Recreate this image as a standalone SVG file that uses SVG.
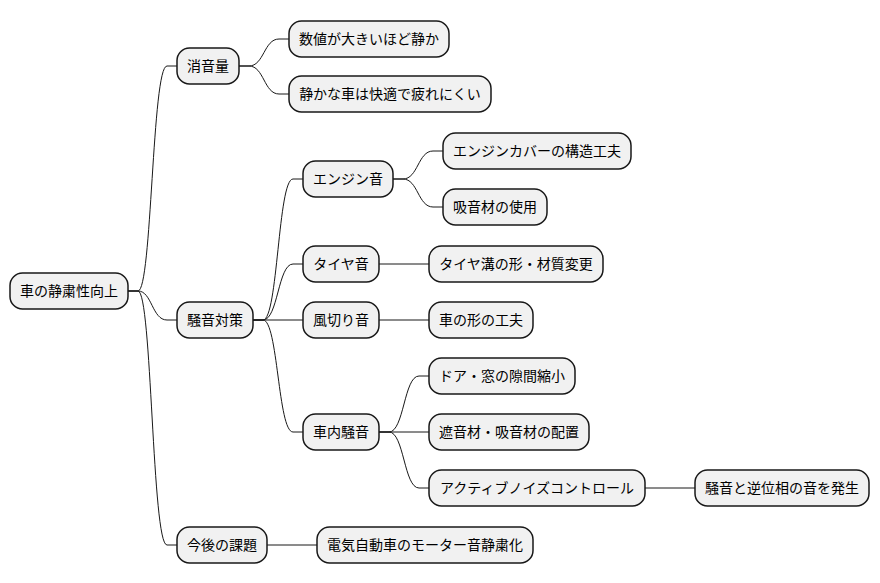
<svg xmlns="http://www.w3.org/2000/svg" width="880" height="583" viewBox="0 0 880 583">
<style>
.n rect{fill:#F1F1F1;stroke:#181818;stroke-width:1.5}
.n text{font-family:"Noto Sans CJK JP","Noto Sans",sans-serif;font-size:14px;fill:#000;text-anchor:middle}
#connectors path{fill:none;stroke:#181818;stroke-width:1}
</style>
<rect width="880" height="583" fill="#FFFFFF"/>
<g id="connectors">
<path d="M128,291 H138 C152,291 152,66 167,66 H177"/>
<path d="M128,291 H138 C152,291 152,320 167,320 H177"/>
<path d="M128,291 H138 C152,291 152,545 167,545 H177"/>
<path d="M239,66 H249 C264,66 264,39 279,39 H289"/>
<path d="M239,66 H249 C264,66 264,94 279,94 H289"/>
<path d="M253,320 H263 C278,320 278,179 293,179 H303"/>
<path d="M253,320 H263 C278,320 278,264 293,264 H303"/>
<path d="M253,320 H303"/>
<path d="M253,320 H263 C278,320 278,432 293,432 H303"/>
<path d="M393,179 H403 C418,179 418,151 433,151 H443"/>
<path d="M393,179 H403 C418,179 418,207 433,207 H443"/>
<path d="M379,264 H429"/>
<path d="M379,320 H429"/>
<path d="M379,432 H389 C404,432 404,376 419,376 H429"/>
<path d="M379,432 H429"/>
<path d="M379,432 H389 C404,432 404,488 419,488 H429"/>
<path d="M645,488 H695"/>
<path d="M267,545 H317"/>
</g>
<g id="root" class="n"><rect x="10" y="273" width="118" height="36" rx="12.5"/><text x="69" y="296">車の静粛性向上</text></g>
<g id="n-shouonryou" class="n"><rect x="177" y="48" width="62" height="36" rx="12.5"/><text x="208" y="71">消音量</text></g>
<g id="n-suuchi" class="n"><rect x="289" y="21" width="160" height="36" rx="12.5"/><text x="369" y="44">数値が大きいほど静か</text></g>
<g id="n-shizuka" class="n"><rect x="289" y="76" width="202" height="36" rx="12.5"/><text x="390" y="99">静かな車は快適で疲れにくい</text></g>
<g id="n-souon" class="n"><rect x="177" y="302" width="76" height="36" rx="12.5"/><text x="215" y="325">騒音対策</text></g>
<g id="n-engine" class="n"><rect x="303" y="161" width="90" height="36" rx="12.5"/><text x="348" y="184">エンジン音</text></g>
<g id="n-cover" class="n"><rect x="443" y="133" width="188" height="36" rx="12.5"/><text x="537" y="156">エンジンカバーの構造工夫</text></g>
<g id="n-kyuon" class="n"><rect x="443" y="189" width="104" height="36" rx="12.5"/><text x="495" y="212">吸音材の使用</text></g>
<g id="n-tire" class="n"><rect x="303" y="246" width="76" height="36" rx="12.5"/><text x="341" y="269">タイヤ音</text></g>
<g id="n-mizo" class="n"><rect x="429" y="246" width="174" height="36" rx="12.5"/><text x="516" y="269">タイヤ溝の形・材質変更</text></g>
<g id="n-kaze" class="n"><rect x="303" y="302" width="76" height="36" rx="12.5"/><text x="341" y="325">風切り音</text></g>
<g id="n-katachi" class="n"><rect x="429" y="302" width="104" height="36" rx="12.5"/><text x="481" y="325">車の形の工夫</text></g>
<g id="n-shanai" class="n"><rect x="303" y="414" width="76" height="36" rx="12.5"/><text x="341" y="437">車内騒音</text></g>
<g id="n-door" class="n"><rect x="429" y="358" width="146" height="36" rx="12.5"/><text x="502" y="381">ドア・窓の隙間縮小</text></g>
<g id="n-shaon" class="n"><rect x="429" y="414" width="160" height="36" rx="12.5"/><text x="509" y="437">遮音材・吸音材の配置</text></g>
<g id="n-anc" class="n"><rect x="429" y="470" width="216" height="36" rx="12.5"/><text x="537" y="493">アクティブノイズコントロール</text></g>
<g id="n-gyakui" class="n"><rect x="695" y="470" width="174" height="36" rx="12.5"/><text x="782" y="493">騒音と逆位相の音を発生</text></g>
<g id="n-kongo" class="n"><rect x="177" y="527" width="90" height="36" rx="12.5"/><text x="222" y="550">今後の課題</text></g>
<g id="n-ev" class="n"><rect x="317" y="527" width="216" height="36" rx="12.5"/><text x="425" y="550">電気自動車のモーター音静粛化</text></g>
</svg>
